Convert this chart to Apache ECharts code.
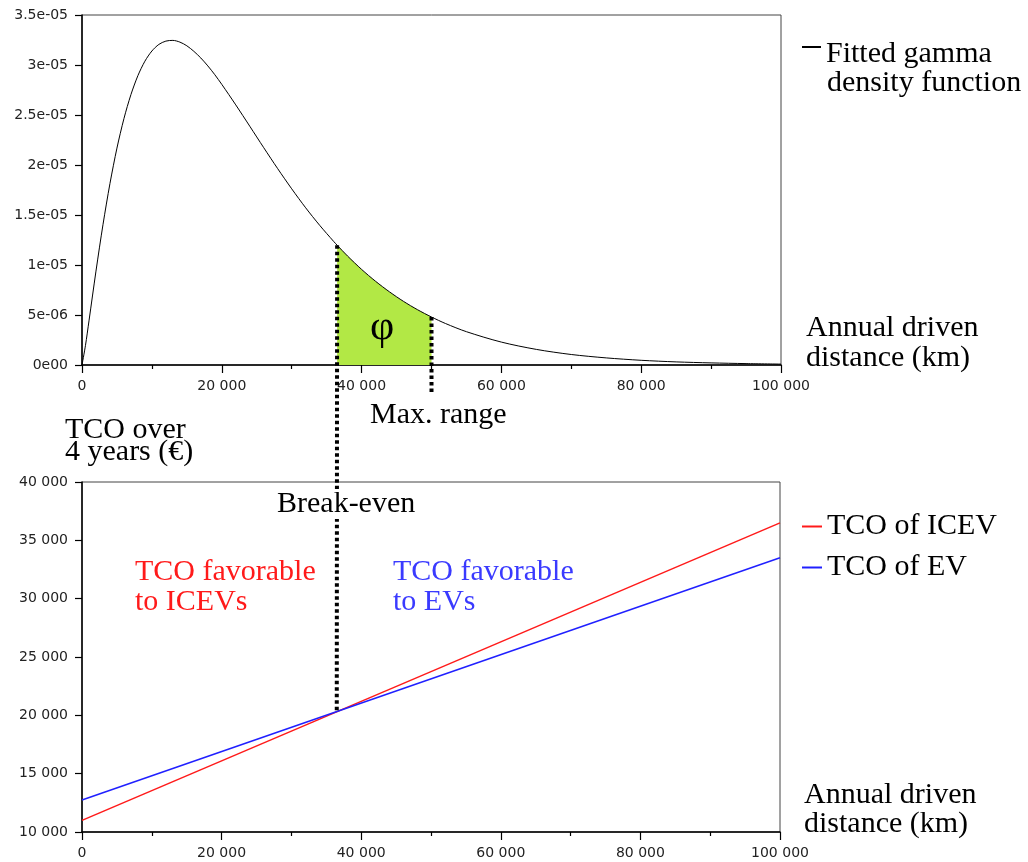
<!DOCTYPE html>
<html><head><meta charset="utf-8">
<script src="https://cdn.jsdelivr.net/npm/echarts@6/dist/echarts.min.js"></script>
<style>html,body{margin:0;padding:0;background:#fff}#c{width:1028px;height:862px}</style>
</head><body><div id="c"></div>
<script>
// ---- data ----
const distanceKm = [0, 500, 1000, 2000, 3000, 4000, 5000, 6000, 7000, 8000, 9000, 10000, 11000, 12000, 13000, 14000, 15000, 16000, 17000, 18000, 19000, 20000, 22000, 24000, 26000, 28000, 30000, 32000, 34000, 36000, 36500, 38000, 40000, 42000, 44000, 46000, 48000, 50000, 52000, 55000, 60000, 65000, 70000, 75000, 80000, 85000, 90000, 95000, 100000];
const densityE6 = [0, 1.97, 4.41, 9.39, 14.03, 18.15, 21.69, 24.64, 27.04, 28.94, 30.38, 31.40, 32.06, 32.39, 32.46, 32.29, 31.92, 31.37, 30.70, 29.91, 29.03, 28.06, 26.01, 23.88, 21.73, 19.63, 17.62, 15.72, 13.97, 12.36, 11.98, 10.89, 9.56, 8.37, 7.31, 6.36, 5.53, 4.80, 4.15, 3.33, 2.29, 1.56, 1.05, 0.71, 0.47, 0.31, 0.21, 0.14, 0.09]; // x 1e-6
const tcoDistanceKm = [0, 100000];
const tcoIcev = [11000, 36500];
const tcoEv = [12750, 33500];
const breakEvenKm = 36500;
const breakEvenTco = 20400;
const maxRangeKm = 50000;
const densityTickLabels = ['0e00', '5e-06', '1e-05', '1.5e-05', '2e-05', '2.5e-05', '3e-05', '3.5e-05'];
const distanceTickLabels = ['0', '20 000', '40 000', '60 000', '80 000', '100 000'];
const tcoTickLabels = ['10 000', '15 000', '20 000', '25 000', '30 000', '35 000', '40 000'];

const SERIF = 'Liberation Serif, Times New Roman, serif';
const SANS = 'DejaVu Sans, sans-serif';

const chart = echarts.init(document.getElementById('c'), null, {renderer: 'canvas'});

const gammaData = distanceKm.map((d, i) => [d, densityE6[i] * 1e-6]);
const phiData = gammaData.filter(p => p[0] >= breakEvenKm && p[0] <= maxRangeKm);

const axisLabelStyle = {color: '#222', fontFamily: SANS, fontSize: 14};

function xAxisDef(grid) {
  return {
    type: 'value', gridIndex: grid, min: 0, max: 100000, interval: 20000,
    axisLine: {show: true, onZero: false, lineStyle: {color: '#000', width: 1.5}},
    axisTick: {show: true, length: 8, lineStyle: {color: '#000', width: 1.2}},
    minorTick: {show: true, splitNumber: 2, length: 4, lineStyle: {color: '#000', width: 1.2}},
    splitLine: {show: false},
    axisLabel: Object.assign({margin: 14, formatter: v => distanceTickLabels[Math.round(v / 20000)]}, axisLabelStyle)
  };
}

const option = {
  animation: false,
  backgroundColor: '#fff',
  grid: [
    {left: 82, top: 15, width: 699, height: 350, show: true, borderColor: '#444', borderWidth: 1},
    {left: 82, top: 482, width: 698, height: 350, show: true, borderColor: '#444', borderWidth: 1}
  ],
  xAxis: [xAxisDef(0), xAxisDef(1)],
  yAxis: [
    {
      type: 'value', gridIndex: 0, min: 0, max: 3.5e-5, interval: 5e-6,
      axisLine: {show: true, onZero: false, lineStyle: {color: '#000', width: 1.5}},
      axisTick: {show: true, length: 7, lineStyle: {color: '#000', width: 1.2}},
      splitLine: {show: false},
      axisLabel: Object.assign({margin: 14, formatter: v => densityTickLabels[Math.round(v / 5e-6)]}, axisLabelStyle)
    },
    {
      type: 'value', gridIndex: 1, min: 10000, max: 40000, interval: 5000,
      axisLine: {show: true, onZero: false, lineStyle: {color: '#000', width: 1.5}},
      axisTick: {show: true, length: 7, lineStyle: {color: '#000', width: 1.2}},
      splitLine: {show: false},
      axisLabel: Object.assign({margin: 14, formatter: v => tcoTickLabels[Math.round((v - 10000) / 5000)]}, axisLabelStyle),
      name: 'TCO over\n4 years (€)', nameLocation: 'end', nameGap: 19, nameMoveOverlap: false,
      nameTextStyle: {fontFamily: SERIF, fontSize: 30, color: '#000', lineHeight: 22, align: 'left', padding: [0, 0, 0, -17]}
    }
  ],
  legend: [
    {
      data: ['Fitted gamma density function'], orient: 'vertical', left: 802, top: 39, padding: 0,
      icon: 'path://M0,0H19V2H0Z M0,16H0.01V16.01H0Z', itemWidth: 19, itemHeight: 16,
      formatter: () => 'Fitted gamma',
      textStyle: {fontFamily: SERIF, fontSize: 30, color: '#000', lineHeight: 30}
    },
    {
      data: ['TCO of ICEV', 'TCO of EV'], orient: 'vertical', left: 802, top: 511.5, padding: 0, itemGap: 11,
      icon: 'rect', itemWidth: 20, itemHeight: 2,
      textStyle: {fontFamily: SERIF, fontSize: 30, color: '#000', lineHeight: 30}
    }
  ],
  series: [
    {
      name: 'φ area', type: 'line', xAxisIndex: 0, yAxisIndex: 0, data: phiData,
      symbol: 'none', smooth: 0.3, lineStyle: {width: 0}, areaStyle: {color: '#b2e845', opacity: 1}, z: 1, silent: true
    },
    {
      name: 'Fitted gamma density function', type: 'line', xAxisIndex: 0, yAxisIndex: 0, data: gammaData,
      symbol: 'none', smooth: 0.3, color: '#000', lineStyle: {color: '#000', width: 1}, z: 3
    },
    {
      name: 'TCO of ICEV', type: 'line', xAxisIndex: 1, yAxisIndex: 1,
      data: tcoDistanceKm.map((d, i) => [d, tcoIcev[i]]),
      symbol: 'none', color: '#ff1a1a', lineStyle: {color: '#ff1a1a', width: 1.5}, z: 3
    },
    {
      name: 'TCO of EV', type: 'line', xAxisIndex: 1, yAxisIndex: 1,
      data: tcoDistanceKm.map((d, i) => [d, tcoEv[i]]),
      symbol: 'none', color: '#2020ff', lineStyle: {color: '#2020ff', width: 1.5}, z: 4
    }
  ]
};
chart.setOption(option);

// annotations anchored through the axes
const dAtBreak = densityE6[distanceKm.indexOf(breakEvenKm)] * 1e-6;
const dAtMax = densityE6[distanceKm.indexOf(maxRangeKm)] * 1e-6;
const pTop = chart.convertToPixel({gridIndex: 0}, [breakEvenKm, dAtBreak]);
const pBot = chart.convertToPixel({gridIndex: 1}, [breakEvenKm, breakEvenTco]);
const pMaxTop = chart.convertToPixel({gridIndex: 0}, [maxRangeKm, dAtMax]);
const pMaxAxis = chart.convertToPixel({gridIndex: 0}, [maxRangeKm, 0]);
const pTopEnd = chart.convertToPixel({gridIndex: 0}, [100000, 0]);
const pBotEnd = chart.convertToPixel({gridIndex: 1}, [100000, 10000]);

const dotted = {stroke: '#000', lineWidth: 4, lineDash: [3.5, 3], lineCap: 'butt'};
function txt(text, x, y, color, size, lh, extra) {
  return {type: 'text', x: x, y: y, z: 20,
    style: Object.assign({text: text, fill: color, fontFamily: SERIF, fontSize: size, lineHeight: lh, align: 'left', verticalAlign: 'middle'}, extra || {})};
}
chart.setOption({
  graphic: [
    {type: 'line', z: 10, shape: {x1: pTop[0], y1: pTop[1], x2: pBot[0], y2: pBot[1]}, style: dotted},
    {type: 'line', z: 10, shape: {x1: pMaxTop[0], y1: pMaxTop[1], x2: pMaxTop[0], y2: pMaxAxis[1] + 28}, style: dotted},
    txt('density function', 827, 83, '#000', 30, 30),
    txt('Annual driven\ndistance (km)', pTopEnd[0] + 25, pTopEnd[1] - 22, '#000', 30, 29.5),
    txt('Annual driven\ndistance (km)', pBotEnd[0] + 24, pBotEnd[1] - 22, '#000', 30, 29),
    txt('φ', 382, 328, '#000', 42, 42, {align: 'center'}),
    txt('Max. range', 370, 415, '#000', 30, 30),
    txt('Break-even', 275, 504, '#000', 30, 30, {backgroundColor: '#fff', padding: [0, 2]}),
    txt('TCO favorable\nto ICEVs', 135, 587, '#ff1a1a', 30, 29.5),
    txt('TCO favorable\nto EVs', 393, 587, '#3a3aff', 30, 29.5)
  ]
});
</script></body></html>
